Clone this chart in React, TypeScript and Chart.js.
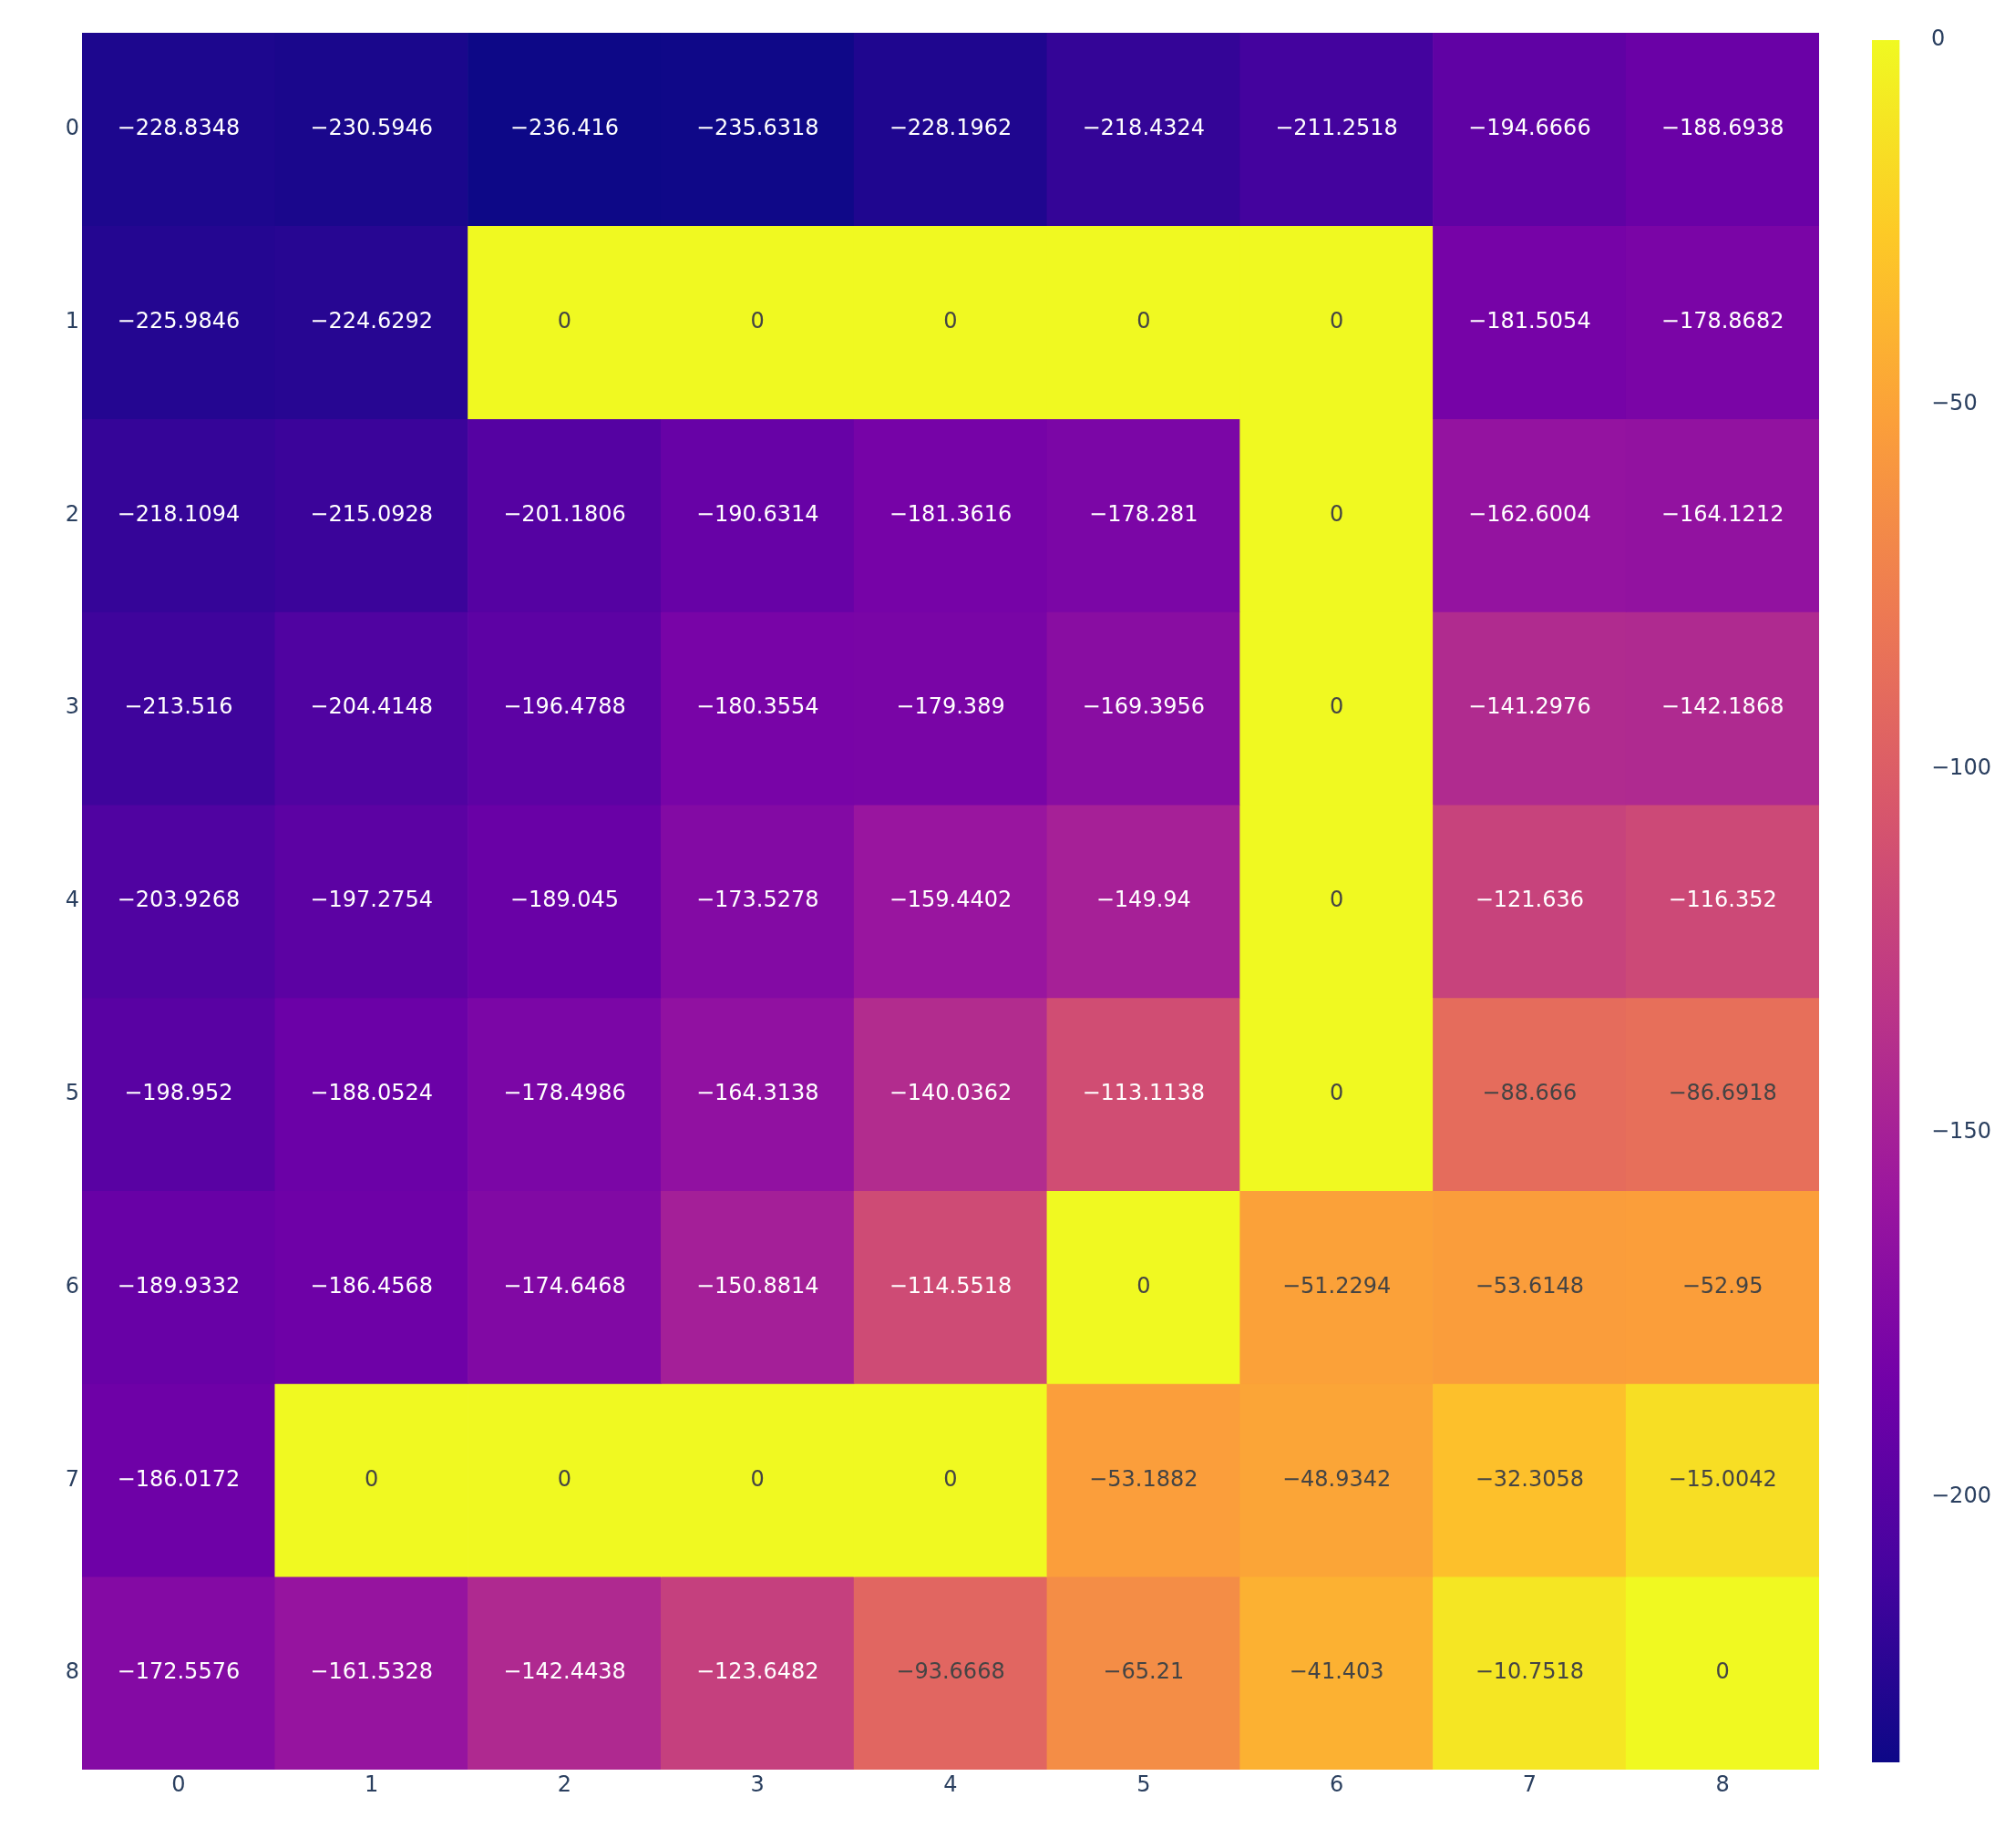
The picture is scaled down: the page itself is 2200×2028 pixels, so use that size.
import React, { useEffect, useRef } from 'react';
import { Chart, registerables } from 'chart.js';

Chart.register(...registerables);

const xLabels = ['0', '1', '2', '3', '4', '5', '6', '7', '8'];
const yLabels = ['0', '1', '2', '3', '4', '5', '6', '7', '8'];

const row0 = [-228.8348, -230.5946, -236.416, -235.6318, -228.1962, -218.4324, -211.2518, -194.6666, -188.6938];
const row1 = [-225.9846, -224.6292, 0, 0, 0, 0, 0, -181.5054, -178.8682];
const row2 = [-218.1094, -215.0928, -201.1806, -190.6314, -181.3616, -178.281, 0, -162.6004, -164.1212];
const row3 = [-213.516, -204.4148, -196.4788, -180.3554, -179.389, -169.3956, 0, -141.2976, -142.1868];
const row4 = [-203.9268, -197.2754, -189.045, -173.5278, -159.4402, -149.94, 0, -121.636, -116.352];
const row5 = [-198.952, -188.0524, -178.4986, -164.3138, -140.0362, -113.1138, 0, -88.666, -86.6918];
const row6 = [-189.9332, -186.4568, -174.6468, -150.8814, -114.5518, 0, -51.2294, -53.6148, -52.95];
const row7 = [-186.0172, 0, 0, 0, 0, -53.1882, -48.9342, -32.3058, -15.0042];
const row8 = [-172.5576, -161.5328, -142.4438, -123.6482, -93.6668, -65.21, -41.403, -10.7518, 0];

const zValues = [row0, row1, row2, row3, row4, row5, row6, row7, row8];
const colorbarTicks = [0, -50, -100, -150, -200];

const plasma = ['#0d0887', '#46039f', '#7201a8', '#9c179e', '#bd3786', '#d8576b', '#ed7953', '#fb9f3a', '#fdca26', '#f0f921'];

const zMin = Math.min(...zValues.flat());
const zMax = Math.max(...zValues.flat());

const FONT_FAMILY = '"DejaVu Sans", Verdana, sans-serif';
const FONT_SIZE = 24;
const TICK_COLOR = '#2a3f5f';

function hexToRgb(h: string): number[] {
  const n = parseInt(h.slice(1), 16);
  return [(n >> 16) & 255, (n >> 8) & 255, n & 255];
}

function rgbFor(v: number): number[] {
  let t = (v - zMin) / (zMax - zMin);
  t = Math.max(0, Math.min(1, t));
  const seg = t * (plasma.length - 1);
  const i = Math.min(Math.floor(seg), plasma.length - 2);
  const f = seg - i;
  const a = hexToRgb(plasma[i]);
  const b = hexToRgb(plasma[i + 1]);
  return [0, 1, 2].map((k) => Math.round(a[k] + (b[k] - a[k]) * f));
}

function colorFor(v: number): string {
  const [r, g, b] = rgbFor(v);
  return `rgb(${r},${g},${b})`;
}

function textColorFor(v: number): string {
  const [r, g, b] = rgbFor(v);
  const brightness = (r * 299 + g * 587 + b * 114) / 1000;
  return brightness >= 128 ? '#444444' : '#ffffff';
}

function fmt(v: number): string {
  return String(v).replace('-', '\u2212');
}

const cellTextPlugin = {
  id: 'cellText',
  afterDatasetsDraw(chart: any) {
    const ctx = chart.ctx;
    ctx.save();
    ctx.font = `${FONT_SIZE}px ${FONT_FAMILY}`;
    ctx.textAlign = 'center';
    ctx.textBaseline = 'middle';
    chart.data.datasets.forEach((_: any, di: number) => {
      const meta = chart.getDatasetMeta(di);
      meta.data.forEach((el: any, i: number) => {
        const v = zValues[di][i];
        const cy = (el.y + el.base) / 2;
        ctx.fillStyle = textColorFor(v);
        ctx.fillText(fmt(v), el.x, cy);
      });
    });
    ctx.restore();
  },
};

export default function App() {
  const mainRef = useRef<HTMLCanvasElement | null>(null);
  const cbRef = useRef<HTMLCanvasElement | null>(null);

  useEffect(() => {
    document.body.style.margin = '0';
    Chart.defaults.font.family = FONT_FAMILY;

    const datasets = zValues.map((row, r) => ({
      label: yLabels[r],
      data: row.map(() => [r - 0.5, r + 0.5]),
      backgroundColor: row.map((v) => colorFor(v)),
      borderWidth: 0,
      barPercentage: 1,
      categoryPercentage: 1,
      grouped: false,
    }));

    const main = new Chart(mainRef.current as HTMLCanvasElement, {
      type: 'bar',
      data: { labels: xLabels, datasets: datasets as any },
      options: {
        responsive: false,
        animation: false,
        devicePixelRatio: 1,
        layout: { padding: { left: 0, top: 36, right: 204, bottom: 26 } },
        plugins: { legend: { display: false }, tooltip: { enabled: false } },
        scales: {
          x: {
            type: 'category',
            offset: true,
            grid: { display: false, drawTicks: false },
            border: { display: false },
            ticks: {
              font: { size: FONT_SIZE, family: FONT_FAMILY },
              color: TICK_COLOR,
              padding: 3,
              maxRotation: 0,
              autoSkip: false,
            },
            afterFit: (s: any) => {
              s.height = 60;
            },
          },
          y: {
            type: 'linear',
            reverse: true,
            min: -0.5,
            max: 8.5,
            grid: { display: false, drawTicks: false },
            border: { display: false },
            afterBuildTicks: (s: any) => {
              s.ticks = yLabels.map((_, i) => ({ value: i }));
            },
            ticks: {
              font: { size: FONT_SIZE, family: FONT_FAMILY },
              color: TICK_COLOR,
              padding: 3,
              autoSkip: false,
              callback: (v: any) => yLabels[Number(v)] ?? '',
            },
            afterFit: (s: any) => {
              s.width = 90;
            },
          },
        },
      } as any,
      plugins: [cellTextPlugin],
    });

    const cb = new Chart(cbRef.current as HTMLCanvasElement, {
      type: 'bar',
      data: {
        labels: [''],
        datasets: [
          {
            data: [[zMin, zMax]] as any,
            borderWidth: 0,
            barPercentage: 1,
            categoryPercentage: 1,
            backgroundColor: (c: any) => {
              const chart = c.chart;
              const area = chart.chartArea;
              if (!area) return plasma[0];
              const g = chart.ctx.createLinearGradient(0, area.bottom, 0, area.top);
              plasma.forEach((col, i) => g.addColorStop(i / (plasma.length - 1), col));
              return g;
            },
          },
        ],
      },
      options: {
        responsive: false,
        animation: false,
        devicePixelRatio: 1,
        layout: { padding: { left: 54, top: 44, right: 0, bottom: 94 } },
        plugins: { legend: { display: false }, tooltip: { enabled: false } },
        scales: {
          x: { display: false, offset: false },
          y: {
            type: 'linear',
            position: 'right',
            min: zMin,
            max: zMax,
            grid: { display: false, drawTicks: false },
            border: { display: false },
            afterBuildTicks: (s: any) => {
              s.ticks = colorbarTicks.map((v) => ({ value: v }));
            },
            ticks: {
              font: { size: FONT_SIZE, family: FONT_FAMILY },
              color: TICK_COLOR,
              padding: 5,
              callback: (v: any) => fmt(Number(v)),
            },
            afterFit: (s: any) => {
              s.width = 86;
            },
          },
        },
      } as any,
    });

    return () => {
      main.destroy();
      cb.destroy();
    };
  }, []);

  return (
    <div style={{ position: 'relative', width: 2200, height: 2028, overflow: 'hidden', background: '#fff' }}>
      <canvas ref={mainRef} width={2200} height={2028} style={{ position: 'absolute', left: 0, top: 0 }} />
      <canvas ref={cbRef} width={200} height={2028} style={{ position: 'absolute', left: 2000, top: 0 }} />
    </div>
  );
}
